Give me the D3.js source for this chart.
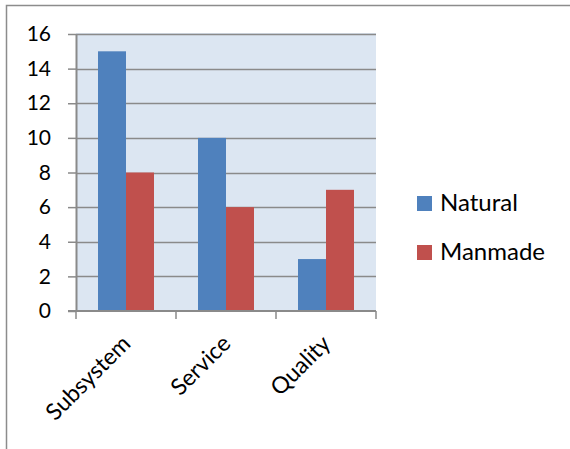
<!DOCTYPE html>
<html>
<head>
<meta charset="utf-8">
<script src="https://cdn.jsdelivr.net/npm/d3@7/dist/d3.min.js"></script>
<style>
  html, body { margin: 0; padding: 0; background: #fff; }
  svg { display: block; font-family: Lato, "Open Sans", sans-serif; }
</style>
</head>
<body>
<svg id="chart" width="570" height="449"></svg>
<script>
// Chart data
const categories = ["Subsystem", "Service", "Quality"];
const seriesNames = ["Natural", "Manmade"];
const natural = [15, 10, 3];
const manmade = [8, 6, 7];
const yTicks = [0, 2, 4, 6, 8, 10, 12, 14, 16];

const colors = { Natural: "#4F81BD", Manmade: "#C0504D" };
const seriesValues = { Natural: natural, Manmade: manmade };

const svg = d3.select("#chart");

// Outer frame (top and left edges)
svg.append("path")
  .attr("d", "M6.5,449 L6.5,5.5 L570,5.5")
  .attr("fill", "none")
  .attr("stroke", "#8c8c8c")
  .attr("stroke-width", 1.5);

const plot = { left: 76, right: 376, top: 34, bottom: 311 };

const x = d3.scaleBand()
  .domain(categories)
  .range([plot.left, plot.right])
  .paddingInner(0)
  .paddingOuter(0);

// Two bars per category with a wide gap on each side
const x1 = d3.scaleBand()
  .domain(seriesNames)
  .range([0, x.bandwidth()])
  .paddingInner(0)
  .paddingOuter(0.786);

const y = d3.scaleLinear()
  .domain([0, 16])
  .range([plot.bottom, plot.top]);

// Plot area background
svg.append("rect")
  .attr("x", plot.left)
  .attr("y", plot.top - 1)
  .attr("width", plot.right - plot.left)
  .attr("height", plot.bottom - plot.top + 1)
  .attr("fill", "#DCE6F2");

// Horizontal gridlines
svg.append("g")
  .selectAll("line")
  .data(yTicks.filter(d => d > 0))
  .join("line")
  .attr("x1", plot.left)
  .attr("x2", plot.right)
  .attr("y1", d => Math.round(y(d)) + 0.5)
  .attr("y2", d => Math.round(y(d)) + 0.5)
  .attr("stroke", "#8a8a8a")
  .attr("stroke-width", 1.5);

// Bars
const groups = svg.append("g")
  .selectAll("g")
  .data(categories)
  .join("g")
  .attr("transform", d => `translate(${x(d)},0)`);

groups.selectAll("rect")
  .data((c, i) => seriesNames.map(s => ({ s, v: seriesValues[s][i] })))
  .join("rect")
  .attr("x", d => x1(d.s))
  .attr("width", x1.bandwidth())
  .attr("y", d => y(d.v))
  .attr("height", d => y(0) - y(d.v))
  .attr("fill", d => colors[d.s]);

// Y axis
const yAxis = svg.append("g")
  .attr("transform", `translate(${plot.left},0)`)
  .call(d3.axisLeft(y).tickValues(yTicks).tickSize(8).tickPadding(17).tickSizeOuter(0));
yAxis.select(".domain").attr("stroke", "#8a8a8a").attr("stroke-width", 2);
yAxis.selectAll(".tick line").attr("stroke", "#8a8a8a").attr("stroke-width", 1.5);
yAxis.selectAll("text")
  .attr("font-size", 21)
  .attr("fill", "#000")
  .style("font-family", "Lato, 'Open Sans', sans-serif");

// X axis with boundary ticks
const xAxisG = svg.append("g")
  .attr("transform", `translate(0,${plot.bottom})`);
xAxisG.append("line")
  .attr("x1", plot.left - 8)
  .attr("x2", plot.right)
  .attr("y1", 0)
  .attr("y2", 0)
  .attr("stroke", "#8a8a8a")
  .attr("stroke-width", 2);
const boundaries = categories.map(c => x(c)).concat([x(categories[categories.length - 1]) + x.bandwidth()]);
xAxisG.selectAll("line.tick")
  .data(boundaries)
  .join("line")
  .attr("class", "tick")
  .attr("x1", d => d)
  .attr("x2", d => d)
  .attr("y1", 0)
  .attr("y2", 8)
  .attr("stroke", "#8a8a8a")
  .attr("stroke-width", 1.5);

// Rotated category labels
xAxisG.selectAll("text")
  .data(categories)
  .join("text")
  .attr("transform", d => `translate(${x(d) + x.bandwidth() / 2 + 6},${34}) rotate(-45)`)
  .attr("text-anchor", "end")
  .attr("font-size", 23)
  .attr("fill", "#000")
  .text(d => d);

// Legend
const legend = svg.append("g")
  .selectAll("g")
  .data(seriesNames)
  .join("g")
  .attr("transform", (d, i) => `translate(417,${196 + i * 49})`);
legend.append("rect")
  .attr("width", 15)
  .attr("height", 15)
  .attr("fill", d => colors[d]);
legend.append("text")
  .attr("x", 23)
  .attr("y", 15)
  .attr("font-size", 24)
  .attr("fill", "#000")
  .text(d => d);
</script>
</body>
</html>
